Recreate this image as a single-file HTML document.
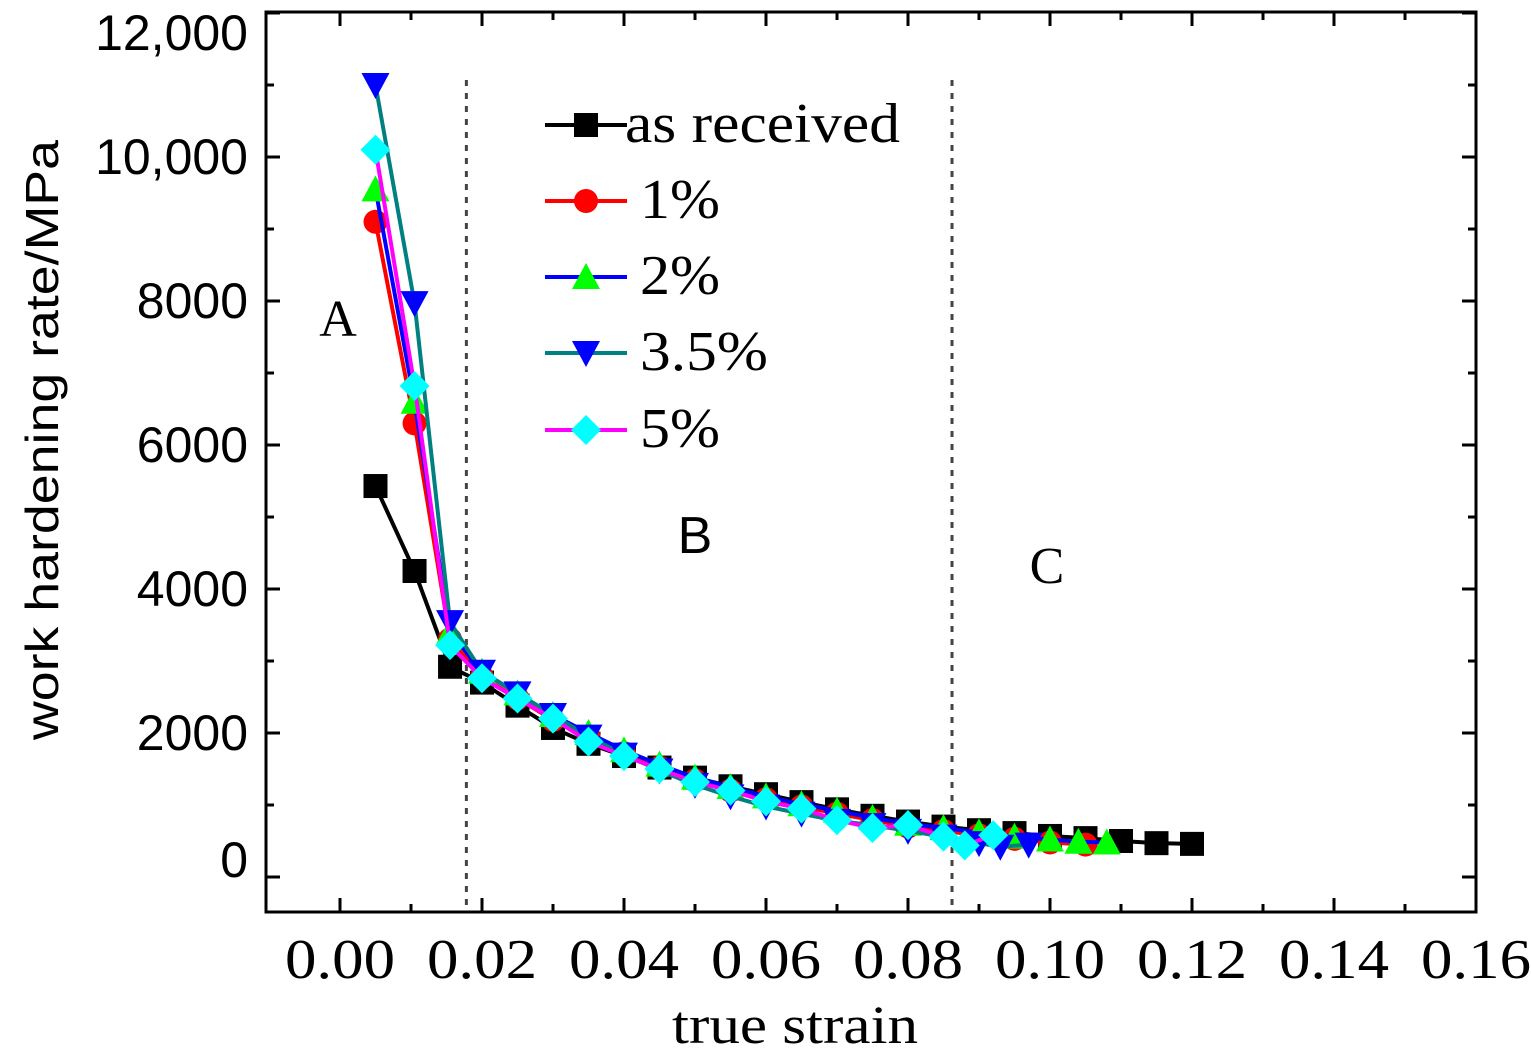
<!DOCTYPE html>
<html><head><meta charset="utf-8"><style>
html,body{margin:0;padding:0;background:#fff;}
svg{display:block;}
</style></head><body>
<svg id="chart" width="1531" height="1060" xmlns="http://www.w3.org/2000/svg">
<rect x="0" y="0" width="1531" height="1060" fill="#fff"/>
<g id="grid"></g>
<g id="series"></g>
<rect x="266" y="12" width="1210" height="900" fill="none" stroke="#000" stroke-width="3"/>
<g id="axes"></g>
<text x="338" y="336" font-family="Liberation Serif, serif" font-size="52" text-anchor="middle">A</text>
<text x="695" y="553" font-family="Liberation Sans, sans-serif" font-size="52" text-anchor="middle">B</text>
<text x="1047" y="583" font-family="Liberation Serif, serif" font-size="52" text-anchor="middle">C</text>
<text x="672" y="1043" font-family="Liberation Serif, serif" font-size="54" textLength="246" lengthAdjust="spacingAndGlyphs">true strain</text>
<text transform="translate(58,740) rotate(-90)" font-family="Liberation Sans, sans-serif" font-size="46" textLength="600" lengthAdjust="spacingAndGlyphs">work hardening rate/MPa</text>
<g id="legend"></g>
</svg>
<script>
const xTicks=[0,0.02,0.04,0.06,0.08,0.10,0.12,0.14,0.16];
const xTickLabels=["0.00","0.02","0.04","0.06","0.08","0.10","0.12","0.14","0.16"];
const yTicks=[0,2000,4000,6000,8000,10000,12000];
const yTickLabels=["0","2000","4000","6000","8000","10,000","12,000"];
const regionBounds=[0.0178,0.0862];
const seriesNames=["as received","1%","2%","3.5%","5%"];
const strainAR=[0.005,0.0105,0.0155,0.020,0.025,0.030,0.035,0.040,0.045,0.050,0.055,0.060,0.065,0.070,0.075,0.080,0.085,0.090,0.095,0.100,0.105,0.110,0.115,0.120];
const rateAR=[5430,4250,2920,2700,2380,2070,1850,1680,1520,1380,1260,1150,1040,940,850,770,700,650,610,570,540,500,470,460];
const strain1=[0.005,0.0105,0.0155,0.020,0.025,0.030,0.035,0.040,0.045,0.050,0.055,0.060,0.065,0.070,0.075,0.080,0.085,0.090,0.095,0.100,0.105];
const rate1=[9100,6300,3300,2780,2480,2180,1950,1720,1520,1340,1200,1080,980,880,790,700,640,580,530,480,450];
const strain2=[0.005,0.0105,0.0155,0.020,0.025,0.030,0.035,0.040,0.045,0.050,0.055,0.060,0.065,0.070,0.075,0.080,0.085,0.090,0.095,0.100,0.104,0.108];
const rate2=[9550,6600,3400,2850,2550,2250,2000,1760,1560,1380,1250,1120,1010,920,820,740,680,620,560,520,490,480];
const strain35=[0.005,0.0105,0.0155,0.020,0.025,0.030,0.035,0.040,0.045,0.050,0.055,0.060,0.065,0.070,0.075,0.080,0.085,0.090,0.093,0.097];
const rate35=[11000,7970,3540,2850,2550,2250,1950,1700,1480,1280,1120,980,880,780,720,640,560,470,420,450];
const strain5=[0.005,0.0105,0.0155,0.020,0.025,0.030,0.035,0.040,0.045,0.050,0.055,0.060,0.065,0.070,0.075,0.080,0.085,0.088,0.092];
const rate5=[10100,6820,3220,2760,2480,2200,1880,1680,1500,1320,1200,1050,950,790,680,720,560,440,580];
const NS="http://www.w3.org/2000/svg";
const X=v=>340+v*7100, Y=v=>877-v*0.072;
function mk(tag,attrs,parent){const e=document.createElementNS(NS,tag);for(const k in attrs)e.setAttribute(k,attrs[k]);parent.appendChild(e);return e;}
const axes=document.getElementById('axes'), grid=document.getElementById('grid'), ser=document.getElementById('series'), leg=document.getElementById('legend');
xTicks.forEach((t,i)=>{
 const x=X(t);
 const a=mk('line',{x1:x,y1:912,x2:x,y2:898,stroke:'#000','stroke-width':3},axes);
 
 
 const b=mk('line',{x1:x,y1:12,x2:x,y2:26,stroke:'#000','stroke-width':3},axes);
 
 
 if(i<xTicks.length-1){const xm=X(t+0.01);
  const c=mk('line',{x1:xm,y1:912,x2:xm,y2:904,stroke:'#000','stroke-width':3},axes);
  
  
  const d=mk('line',{x1:xm,y1:12,x2:xm,y2:20,stroke:'#000','stroke-width':3},axes);
  
  }
 const tx=mk('text',{x:x-55,y:978,'font-family':'Liberation Serif, serif','font-size':56,textLength:110,lengthAdjust:'spacingAndGlyphs'},axes);
 tx.textContent=xTickLabels[i];
 
 
});
yTicks.forEach((t,i)=>{
 const y=Y(t);
 const a=mk('line',{x1:266,y1:y,x2:280,y2:y,stroke:'#000','stroke-width':3},axes);
 
 
 const b=mk('line',{x1:1476,y1:y,x2:1462,y2:y,stroke:'#000','stroke-width':3},axes);
 
 
 if(i<yTicks.length-1){const ym=Y(t+1000);
  const c=mk('line',{x1:266,y1:ym,x2:274,y2:ym,stroke:'#000','stroke-width':3},axes);
  
  
  const d=mk('line',{x1:1476,y1:ym,x2:1468,y2:ym,stroke:'#000','stroke-width':3},axes);
  
  }
 let off=0; if(i===0) off=-17; if(i===yTicks.length-1) off=20;
 const tx=mk('text',{x:248,y:y+off+17,'font-family':'Liberation Sans, sans-serif','font-size':50,'text-anchor':'end'},axes);
 tx.textContent=yTickLabels[i];
 
 
});
regionBounds.forEach(b=>{
 const l=mk('line',{x1:X(b),y1:80,x2:X(b),y2:912,stroke:'#444','stroke-width':3,'stroke-dasharray':'6 7'},grid);
 
 
});
function marker(type,x,y,col,g){
 const s=12;let e;
 if(type==='square')e=mk('rect',{x:x-s,y:y-s,width:2*s,height:2*s,fill:col},g);
 else if(type==='circle')e=mk('circle',{cx:x,cy:y,r:s,fill:col},g);
 else if(type==='up')e=mk('polygon',{points:`${x},${y-s-2} ${x-s-2},${y+s} ${x+s+2},${y+s}`,fill:col},g);
 else if(type==='down')e=mk('polygon',{points:`${x},${y+s+2} ${x-s-2},${y-s} ${x+s+2},${y-s}`,fill:col},g);
 else e=mk('polygon',{points:`${x},${y-s-3} ${x+s+3},${y} ${x},${y+s+3} ${x-s-3},${y}`,fill:col},g);
 return e;
}
const defs=[
 {xs:strainAR,ys:rateAR,line:'#000',mc:'#000',m:'square',name:'series-as-received'},
 {xs:strain1,ys:rate1,line:'#f00',mc:'#f00',m:'circle',name:'series-1pct'},
 {xs:strain2,ys:rate2,line:'#00f',mc:'#0f0',m:'up',name:'series-2pct'},
 {xs:strain35,ys:rate35,line:'#008080',mc:'#00f',m:'down',name:'series-3-5pct'},
 {xs:strain5,ys:rate5,line:'#f0f',mc:'#0ff',m:'diamond',name:'series-5pct'}
];
defs.forEach(d=>{
 const g=mk('g',{},ser);
 
 
 const p=mk('polyline',{points:d.xs.map((x,i)=>X(x)+','+Y(d.ys[i])).join(' '),fill:'none',stroke:d.line,'stroke-width':4},g);
 
 
 d.xs.forEach((x,i)=>{const m=marker(d.m,X(x),Y(d.ys[i]),d.mc,g);
  
  });
});
const legY=[125,201,277,353,430];
const legW=[275,80,80,128,80];
defs.forEach((d,i)=>{
 const g=mk('g',{},leg);
 
 
 mk('line',{x1:545,y1:legY[i],x2:627,y2:legY[i],stroke:d.line,'stroke-width':4},g);
 marker(d.m,586,legY[i],d.mc,g);
 const t=mk('text',{x:i===0?625:640,y:legY[i]+17,'font-family':'Liberation Serif, serif','font-size':56,textLength:legW[i],lengthAdjust:'spacingAndGlyphs'},g);
 t.textContent=seriesNames[i];
});
</script>
</body></html>
